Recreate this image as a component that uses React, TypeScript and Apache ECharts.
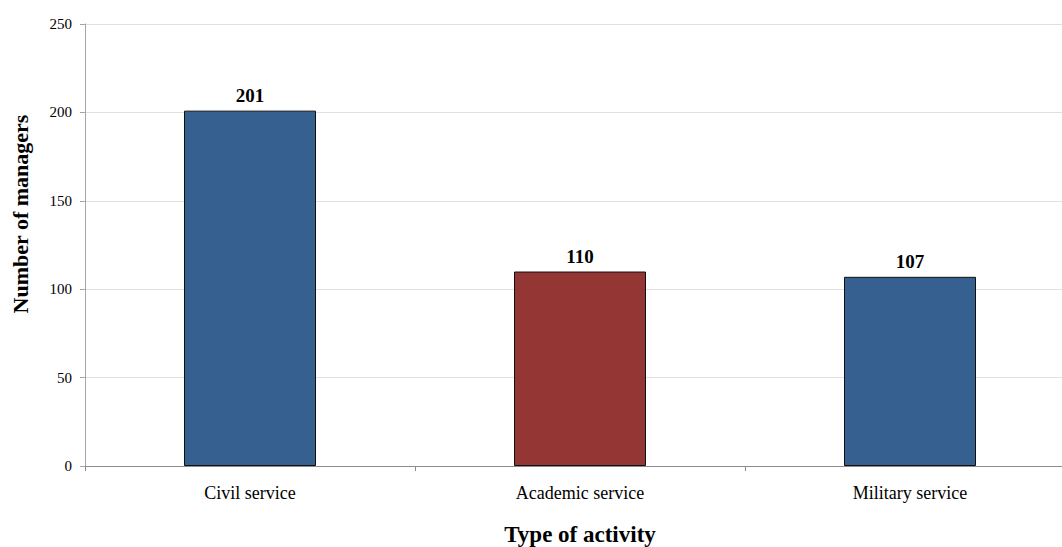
import React, { useEffect, useRef } from "react";
import * as echarts from "echarts";

const categories = ["Civil service", "Academic service", "Military service"];
const managers = [201, 110, 107];
const barColors = ["#36608F", "#943634", "#36608F"];
const xTitle = "Type of activity";
const yTitle = "Number of managers";

const FONT = "'Liberation Serif', 'Times New Roman', serif";

export default function App() {
  const ref = useRef<HTMLDivElement>(null);

  useEffect(() => {
    if (!ref.current) return;
    const chart = echarts.init(ref.current, undefined, { renderer: "svg" });
    chart.setOption({
      animation: false,
      textStyle: { fontFamily: FONT },
      grid: { left: 85, right: 25, top: 24, bottom: 81, containLabel: false, outerBoundsMode: "none" },
      graphic: [
        {
          type: "text",
          x: 20,
          y: 214,
          rotation: Math.PI / 2,
          style: {
            text: yTitle,
            fontFamily: FONT,
            fontSize: 22,
            fontWeight: "bold",
            fill: "#000",
            align: "center",
            verticalAlign: "middle",
          },
        },
      ],
      xAxis: {
        type: "category",
        data: categories,
        name: xTitle,
        nameLocation: "middle",
        nameGap: 57,
        nameTextStyle: { fontFamily: FONT, fontSize: 23, fontWeight: "bold", color: "#000" },
        axisLine: { lineStyle: { color: "#8c8c8c", width: 1 } },
        axisTick: { show: true, length: 5, lineStyle: { color: "#8c8c8c" } },
        axisLabel: { fontFamily: FONT, fontSize: 18, color: "#000", margin: 18 },
      },
      yAxis: {
        type: "value",
        min: 0,
        max: 250,
        interval: 50,
        axisLine: { show: true, lineStyle: { color: "#a6a6a6", width: 1 } },
        axisTick: { show: true, length: 5, lineStyle: { color: "#a6a6a6" } },
        axisLabel: { fontFamily: FONT, fontSize: 15, color: "#000", margin: 13 },
        splitLine: { lineStyle: { color: "#e0e0e0", width: 1 } },
      },
      series: [
        {
          type: "bar",
          barWidth: "40%",
          data: managers.map((v, i) => ({
            value: v,
            itemStyle: { color: barColors[i], borderColor: "#111", borderWidth: 1 },
          })),
          label: {
            show: true,
            position: "top",
            distance: 6,
            fontFamily: FONT,
            fontSize: 19,
            fontWeight: "bold",
            color: "#000",
          },
        },
      ],
    });
    return () => chart.dispose();
  }, []);

  return (
    <div
      ref={ref}
      style={{ position: "fixed", left: 0, top: 0, width: 1100, height: 547, background: "#fff" }}
    />
  );
}
